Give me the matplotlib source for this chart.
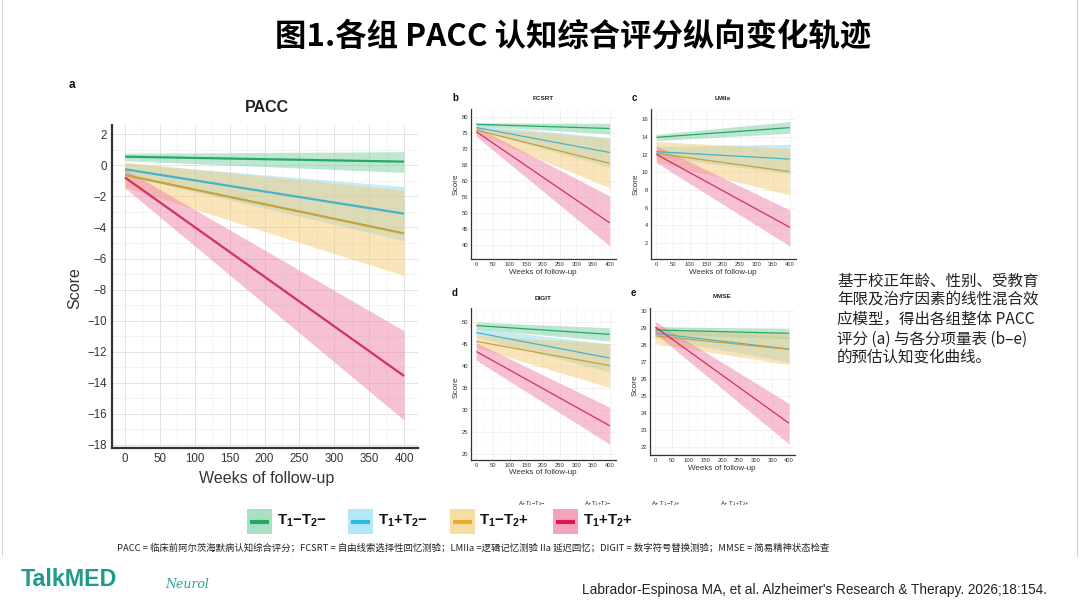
import matplotlib
matplotlib.use("Agg")
import matplotlib.pyplot as plt
from matplotlib.ticker import MultipleLocator
from matplotlib.patches import Rectangle
from matplotlib import font_manager

# ---------------- data ----------------
groups = ["T1-T2-", "T1+T2-", "T1-T2+", "T1+T2+"]
group_math = [r"$\mathbf{T_1{-}T_2{-}}$", r"$\mathbf{T_1{+}T_2{-}}$",
              r"$\mathbf{T_1{-}T_2{+}}$", r"$\mathbf{T_1{+}T_2{+}}$"]
amyloid_labels = [r"$\mathrm{A{+}T_1{-}T_2{-}}$", r"$\mathrm{A{+}T_1{+}T_2{-}}$",
                  r"$\mathrm{A{+}\ T_1{-}T_2{+}}$", r"$\mathrm{A{+}\ T_1{+}T_2{+}}$"]
weeks = [0, 400]
week_ticks = list(range(0, 401, 50))

pacc_est = [[0.56, 0.24], [-0.25, -3.11], [-0.62, -4.38], [-0.78, -13.56]]
pacc_lo = [[0.30, -0.45], [-0.65, -4.85], [-1.40, -7.10], [-1.45, -16.40]]
pacc_hi = [[0.78, 0.88], [0.15, -1.37], [0.20, -1.60], [-0.25, -10.65]]
pacc_yticks = list(range(-18, 3, 2))

fcsrt_est = [[77.8, 76.5], [76.8, 69.0], [76.0, 65.6], [75.5, 47.0]]
fcsrt_lo = [[77.3, 74.8], [76.0, 64.4], [75.0, 58.0], [74.0, 39.8]]
fcsrt_hi = [[78.3, 78.1], [77.6, 73.7], [77.0, 73.4], [77.0, 55.4]]
fcsrt_yticks = list(range(40, 81, 5))

lmiia_est = [[13.96, 15.06], [12.34, 11.50], [12.15, 10.08], [12.04, 3.78]]
lmiia_lo = [[13.60, 14.42], [11.80, 9.85], [11.20, 7.44], [11.10, 1.66]]
lmiia_hi = [[14.30, 15.74], [12.90, 13.17], [13.50, 12.70], [13.00, 5.74]]
lmiia_yticks = list(range(2, 17, 2))

digit_est = [[49.2, 47.2], [47.6, 41.8], [45.6, 40.1], [43.3, 26.4]]
digit_lo = [[48.4, 45.7], [46.6, 38.6], [44.2, 35.1], [41.3, 22.2]]
digit_hi = [[50.0, 48.7], [48.6, 45.0], [47.0, 45.1], [45.3, 30.6]]
digit_yticks = list(range(20, 51, 5))

mmse_est = [[28.90, 28.70], [28.70, 27.77], [28.55, 27.75], [29.07, 23.38]]
mmse_lo = [[28.65, 28.38], [28.45, 27.00], [28.10, 26.85], [28.70, 22.15]]
mmse_hi = [[29.10, 28.98], [28.95, 28.50], [29.00, 28.65], [29.40, 24.55]]
mmse_yticks = list(range(22, 31, 1))

title_text = "图1.各组 PACC 认知综合评分纵向变化轨迹"
side_lines = ["基于校正年龄、性别、受教育", "年限及治疗因素的线性混合效",
              "应模型，得出各组整体 PACC", "评分 (a) 与各分项量表 (b–e)",
              "的预估认知变化曲线。"]
footnote = ("PACC = 临床前阿尔茨海默病认知综合评分；FCSRT = 自由线索选择性回忆测验；"
            "LMIIa =逻辑记忆测验 IIa 延迟回忆；DIGIT = 数字符号替换测验；MMSE = 简易精神状态检查")
citation = "Labrador-Espinosa MA, et al. Alzheimer's Research & Therapy. 2026;18:154."

# ---------------- style ----------------
line_colors = ['#27A866', '#45B3C9', '#C4A23E', '#D42F64']
fill_colors = ['#6FCB9B', '#86D5EE', '#F3C96E', '#EF88AA']
fill_alpha = [0.45, 0.45, 0.48, 0.52]
legend_patch = ['#A9DFC4', '#B4E7F8', '#F8DDA2', '#F3A3BC']
legend_line = ['#22A860', '#2BB9E8', '#E6AE2C', '#E0174F']

names = {f.name for f in font_manager.fontManager.ttflist}
SANS = 'Liberation Sans' if 'Liberation Sans' in names else 'DejaVu Sans'
NARROW = 'Liberation Sans Narrow' if 'Liberation Sans Narrow' in names else SANS
CJK = ['Noto Sans CJK SC', 'DejaVu Sans']

plt.rcParams['font.family'] = [SANS, 'DejaVu Sans']
plt.rcParams['mathtext.fontset'] = 'custom'
plt.rcParams['mathtext.rm'] = SANS
plt.rcParams['mathtext.bf'] = SANS + ':bold'
plt.rcParams['mathtext.it'] = SANS + ':italic'

W, H = 1080, 603
fig = plt.figure(figsize=(W / 100, H / 100), dpi=100)
fig.patch.set_facecolor('white')


def rect(l, t, r, b):
    return [l / W, 1 - b / H, (r - l) / W, (b - t) / H]


ov = fig.add_axes([0, 0, 1, 1], zorder=10)
ov.set_xlim(0, W)
ov.set_ylim(H, 0)
ov.axis('off')
ov.patch.set_alpha(0)

renderer = fig.canvas.get_renderer()


def fit(t, width):
    bb = t.get_window_extent(renderer=renderer)
    t.set_fontsize(t.get_fontsize() * width / bb.width)


def panel(box, est, lo, hi, yticks, ylim, ymin_step, big, title, letter,
          letter_xy, title_xy, score_xy, xlab_xy):
    ax = fig.add_axes(rect(*box))
    for i in range(4):
        ax.fill_between(weeks, lo[i], hi[i], color=fill_colors[i],
                        alpha=fill_alpha[i], lw=0, zorder=2)
    for i in range(4):
        ax.plot(weeks, est[i], color=line_colors[i],
                lw=1.6 if big else 0.9, zorder=3, solid_capstyle='butt')
    ax.set_xlim(-19 if big else -16, 420 if big else 418)
    ax.set_ylim(*ylim)
    ax.set_xticks(week_ticks)
    ax.set_yticks(yticks)
    ax.xaxis.set_minor_locator(MultipleLocator(25))
    ax.yaxis.set_minor_locator(MultipleLocator(ymin_step))
    ax.grid(which='major', color='#E3E3E3' if big else '#EAEAEA',
            lw=0.7 if big else 0.4, zorder=0)
    ax.grid(which='minor', color='#EFEFEF' if big else '#F3F3F3',
            lw=0.5 if big else 0.3, zorder=0)
    ax.set_axisbelow(True)
    for s in ['top', 'right']:
        ax.spines[s].set_visible(False)
    for s in ['left', 'bottom']:
        ax.spines[s].set_color('#333333')
        ax.spines[s].set_linewidth(1.6 if big else 0.9)
    ax.tick_params(which='both', length=0, labelsize=8.3 if big else 4.2,
                   colors='#333333', pad=3.5 if big else 2.0)
    fs_lab = 11.5 if big else 5.8
    ax.set_xlabel('Weeks of follow-up', fontsize=fs_lab, color='#333333')
    ax.set_ylabel('Score', fontsize=fs_lab * (1.0 if big else 1.03), color='#333333')
    ax.xaxis.set_label_coords(*xlab_xy, transform=ov.transData)
    ax.yaxis.set_label_coords(*score_xy, transform=ov.transData)
    ax.xaxis.label.set_va('center')
    ax.yaxis.label.set_va('center')
    ov.text(*title_xy, title, fontsize=11.5 if big else 4.6, fontweight='bold',
            ha='center', va='center', color='#222222')
    ov.text(*letter_xy, letter, fontsize=8.5 if big else 7, fontweight='bold',
            ha='left', va='center', color='#111111')
    return ax


panel((111.7, 125, 418, 448), pacc_est, pacc_lo, pacc_hi, pacc_yticks,
      (-18.2, 2.6), 1, True, 'PACC', 'a', (69, 85), (267, 108), (75, 288), (267, 478))
panel((471, 109, 615.7, 259), fcsrt_est, fcsrt_lo, fcsrt_hi, fcsrt_yticks,
      (35.7, 82.6), 2.5, False, 'FCSRT', 'b', (452, 98), (543, 99), (456, 184), (543, 273))
panel((651, 109, 795.7, 259), lmiia_est, lmiia_lo, lmiia_hi, lmiia_yticks,
      (0.19, 17.17), 1, False, 'LMIIa', 'c', (632, 98), (723, 99), (636, 184), (723, 273))
panel((471, 308, 615.7, 460), digit_est, digit_lo, digit_hi, digit_yticks,
      (18.6, 53.2), 2.5, False, 'DIGIT', 'd', (452, 293), (543, 298), (456, 387), (543, 473))
panel((650, 308, 795, 455), mmse_est, mmse_lo, mmse_hi, mmse_yticks,
      (21.5, 30.2), 0.5, False, 'MMSE', 'e', (631, 293), (722, 297), (635, 385), (722, 468))

# ---------------- legend ----------------
patch_x = [247, 348, 450, 553]
text_x = [277, 378, 479, 583]
amy_x = [518, 584, 651, 720]
for i in range(4):
    ov.add_patch(Rectangle((patch_x[i], 509), 25, 25, facecolor=legend_patch[i],
                           edgecolor='none'))
    ov.plot([patch_x[i] + 3, patch_x[i] + 22], [521.5, 521.5], color=legend_line[i],
            lw=3.0, solid_capstyle='butt')
    ov.text(text_x[i], 521, group_math[i], fontsize=10.8, ha='left', va='center',
            color='#111111')
    ov.text(amy_x[i], 504, amyloid_labels[i], fontsize=4.2, ha='left', va='center',
            color='#222222')

# ---------------- texts ----------------
t = ov.text(275, 37, title_text, family=CJK, fontweight='bold', fontsize=22,
            ha='left', va='center', color='#000000')
fit(t, 595)

side_y = [281, 300, 319.5, 339, 357.5]
for s, yy in zip(side_lines, side_y):
    ov.text(837, yy, s, family=CJK, fontsize=11.2, ha='left', va='center',
            color='#222222')

t = ov.text(117, 548, footnote, family=CJK, fontsize=5.6, ha='left', va='center',
            color='#222222')
fit(t, 711)

t = ov.text(21, 580, 'TalkMED', family=[NARROW, 'DejaVu Sans'], fontweight='bold',
            fontsize=24, ha='left', va='center', color='#1F9A8B')
fit(t, 97)
ov.text(165, 585, 'Neurol', family=['DejaVu Serif'], style='italic', fontsize=9,
        ha='left', va='center', color='#2AA595')
t = ov.text(582, 590, citation, family=[NARROW, 'DejaVu Sans'], fontsize=11,
            ha='left', va='center', color='#222222')
fit(t, 463)

# slide border lines
ov.plot([1077, 1077], [0, 556], color='#CFCFCF', lw=0.8)
ov.plot([1.5, 1.5], [0, 556], color='#D8D8D8', lw=0.8)

fig.savefig('out.png', dpi=100, facecolor='white')
